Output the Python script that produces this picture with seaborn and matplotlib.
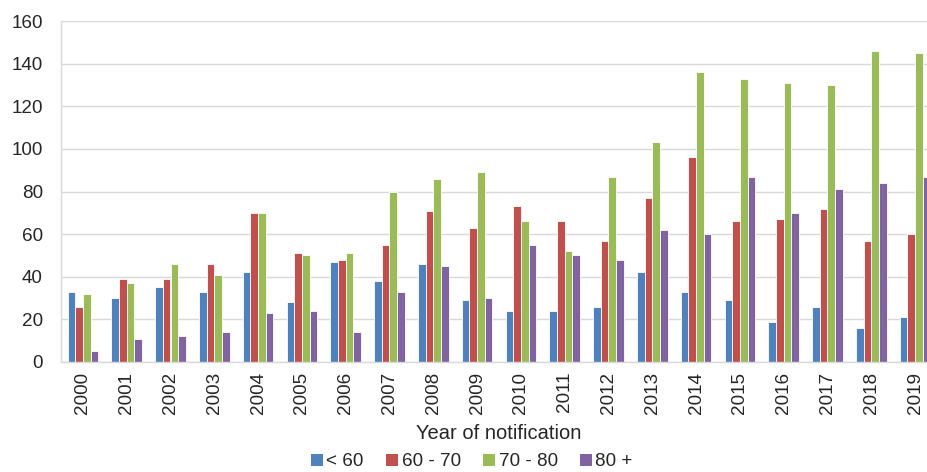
import pandas as pd
import matplotlib.pyplot as plt
import seaborn as sns
from matplotlib.patches import Patch

years = [str(y) for y in range(2000, 2020)]
groups = ['< 60', '60 - 70', '70 - 80', '80 +']
under_60 = [33, 30, 35, 33, 42, 28, 47, 38, 46, 29, 24, 24, 26, 42, 33, 29, 19, 26, 16, 21]
age_60_70 = [26, 39, 39, 46, 70, 51, 48, 55, 71, 63, 73, 66, 57, 77, 96, 66, 67, 72, 57, 60]
age_70_80 = [32, 37, 46, 41, 70, 50, 51, 80, 86, 89, 66, 52, 87, 103, 136, 133, 131, 130, 146, 145]
over_80 = [5, 11, 12, 14, 23, 24, 14, 33, 45, 30, 55, 50, 48, 62, 60, 87, 70, 81, 84, 87]
colors = ['#4F81BD', '#C0504D', '#9BBB59', '#8064A2']

rows = []
for g, vals in zip(groups, [under_60, age_60_70, age_70_80, over_80]):
    for y, v in zip(years, vals):
        rows.append({'Year': y, 'Age': g, 'Count': v})
df = pd.DataFrame(rows)

sns.set_style('white')
plt.rcParams['font.family'] = ['Liberation Sans', 'DejaVu Sans']

fig = plt.figure(figsize=(9.28, 4.72), dpi=100)
# axes run past the right edge, as in the cropped original
ax = fig.add_axes([61 / 928, 110 / 472, 876 / 928, 341 / 472])

sns.barplot(data=df, x='Year', y='Count', hue='Age', palette=colors,
            saturation=1, width=0.7, edgecolor='white', linewidth=0.6,
            legend=False, ax=ax)

ax.set_ylim(0, 160)
ax.set_yticks(range(0, 161, 20))
ax.set_xlim(-0.5, len(years) - 0.5)
ax.yaxis.grid(True, color='#D9D9D9', linewidth=1)
ax.set_axisbelow(True)
for side in ['top', 'right']:
    ax.spines[side].set_visible(False)
for side in ['left', 'bottom']:
    ax.spines[side].set_color('#D9D9D9')
    ax.spines[side].set_linewidth(1)
ax.tick_params(axis='y', length=0, pad=13, labelsize=13.6)
ax.tick_params(axis='x', length=0, pad=7, labelsize=13.6, rotation=90)
ax.set_ylabel('')
ax.set_xlabel('Year of notification', fontsize=14.5, labelpad=7)

handles = [Patch(facecolor=c, edgecolor='none') for c in colors]
fig.legend(handles, groups, loc='center', bbox_to_anchor=(472 / 928, 1 - 462 / 472),
           ncol=4, frameon=False, fontsize=13.6, handlelength=0.6, handleheight=0.6,
           handletextpad=0.2, columnspacing=1.2)

plt.savefig('out.png', dpi=100)
